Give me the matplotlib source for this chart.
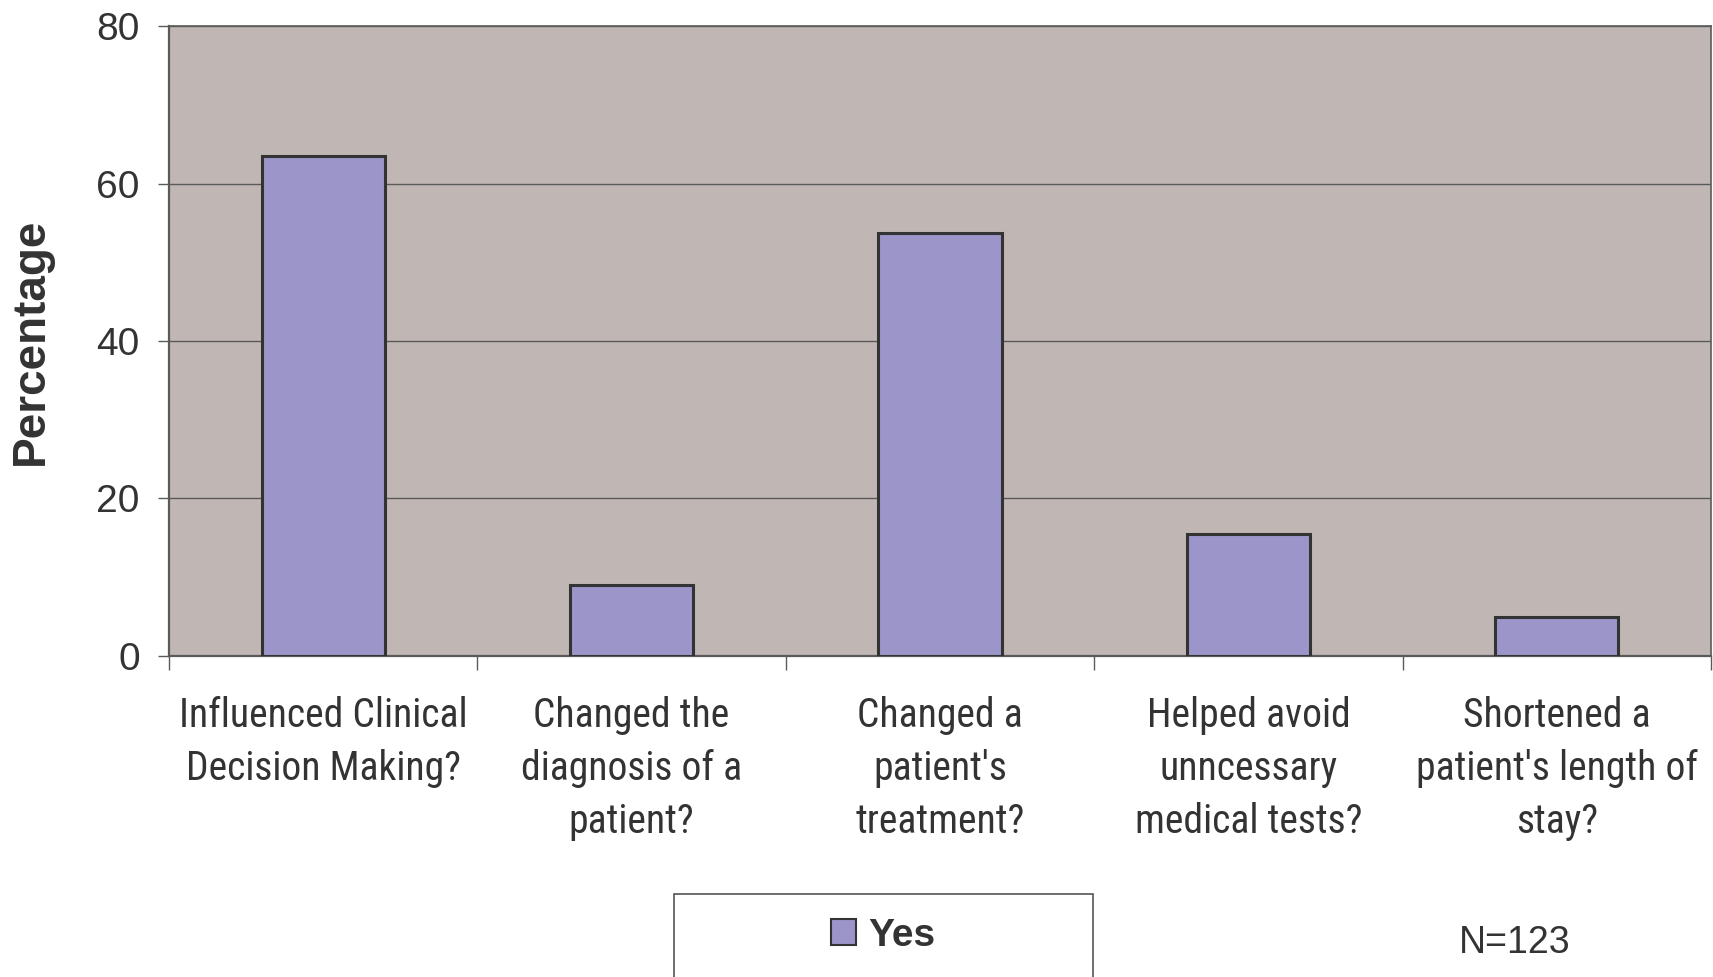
import warnings
import matplotlib
matplotlib.use("Agg")
import matplotlib.pyplot as plt
from matplotlib.patches import Patch, Rectangle
from matplotlib import font_manager

warnings.filterwarnings("ignore")

categories = [
    "Influenced Clinical\nDecision Making?",
    "Changed the\ndiagnosis of a\npatient?",
    "Changed a\npatient's\ntreatment?",
    "Helped avoid\nunncessary\nmedical tests?",
    "Shortened a\npatient's length of\nstay?",
]
yes_pct = [63.5, 9.0, 53.7, 15.5, 4.9]
y_ticks = [0, 20, 40, 60, 80]
series_name = "Yes"
sample_note = "N=123"

installed = {f.name for f in font_manager.fontManager.ttflist}
narrow_choices = [n for n in ("Liberation Sans Narrow", "Roboto Condensed", "Open Sans Condensed")
                  if n in installed]
label_family = narrow_choices[:1] + ["Liberation Sans", "DejaVu Sans"]
plt.rcParams["font.family"] = ["Liberation Sans", "DejaVu Sans"]

text_col = "#333333"
plot_bg = "#C0B7B4"
bar_col = "#9B95C9"
edge_col = "#333333"
line_col = "#5A5A5A"

W, H = 1713, 977
fig = plt.figure(figsize=(W / 100, H / 100), dpi=100)
ax = fig.add_axes([169 / W, 1 - 655.5 / H, (1711 - 169) / W, (655.5 - 26.2) / H])
ax.set_facecolor(plot_bg)

x = list(range(len(categories)))
ax.bar(x, yes_pct, width=0.40, color=bar_col, edgecolor=edge_col, linewidth=2.2, zorder=3)

ax.set_xlim(-0.5, len(categories) - 0.5)
ax.set_ylim(0, 80)
ax.set_yticks(y_ticks)
ax.yaxis.grid(True, color=line_col, linewidth=1.0, zorder=1)
ax.set_axisbelow(True)

for s in ax.spines.values():
    s.set_color(line_col)
    s.set_linewidth(1.2)
ax.spines["left"].set_linewidth(1.6)
ax.spines["bottom"].set_linewidth(1.6)

ax.tick_params(axis="y", direction="out", length=8, width=1.0, color=line_col,
               labelsize=28, labelcolor=text_col, pad=13)

ax.set_xticks(x)
ax.set_xticklabels(categories, fontsize=28.5, color=text_col, linespacing=1.45,
                   family=label_family)
ax.tick_params(axis="x", which="major", length=0, pad=29)
ax.set_xticks([i + 0.5 for i in range(-1, len(categories))], minor=True)
ax.tick_params(axis="x", which="minor", direction="out", length=10, width=1.0, color=line_col)

ax.set_ylabel("Percentage", fontsize=33, fontweight="bold", color=text_col)
ax.yaxis.set_label_coords(-(169 - 53) / (1711 - 169), 0.5)

# legend frame running off the bottom edge of the figure
fig.patches.append(Rectangle((674 / W, -0.02), (1093 - 674) / W, 0.02 + 1 - 894 / H,
                             transform=fig.transFigure, facecolor="white",
                             edgecolor="#555555", linewidth=1.2, clip_on=False))
handle = Patch(facecolor=bar_col, edgecolor=edge_col, linewidth=1.5)
leg = fig.legend([handle], [series_name], loc="center",
                 bbox_to_anchor=(883 / W, 1 - 936 / H), frameon=False,
                 prop={"size": 28, "weight": "bold"}, handlelength=0.65, handleheight=0.65,
                 handletextpad=0.3, borderaxespad=0)
for t in leg.get_texts():
    t.set_color(text_col)

fig.text(1515 / W, 1 - 943 / H, sample_note, fontsize=27, color=text_col,
         ha="center", va="center")

fig.savefig("out.png", dpi=100, facecolor="white")
